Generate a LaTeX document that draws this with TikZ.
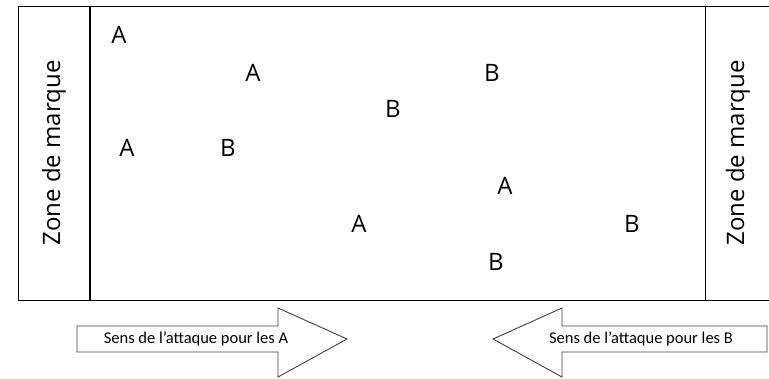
\documentclass[tikz,border=0pt]{standalone}
\usepackage{fontspec}
\setmainfont{Open Sans}
\newfontfamily\lblfont{Carlito}
\begin{document}
\begin{tikzpicture}[x=1pt,y=-1pt,
  player/.style={font=\fontsize{24}{26}\selectfont, inner sep=0pt},
  zonelbl/.style={font=\fontsize{24}{26}\selectfont, rotate=90, inner sep=0pt},
  arrowlbl/.style={font=\lblfont\fontsize{16.5}{18}\selectfont, inner sep=0pt},
  bigarrow/.style={draw=black!75, line width=0.9pt, fill=white, line join=miter}]
\useasboundingbox (0,0) rectangle (769,378);
% field
\draw[line width=1pt] (18,6) -- (769,6);
\draw[line width=1pt] (18,300) -- (769,300);
\draw[line width=1pt] (18,6) -- (18,300);
\draw[line width=2pt] (90,6) -- (90,300);
\draw[line width=1pt] (705,6) -- (705,300);
\node[zonelbl] (zl) at (54,153) {Zone de marque};
\node[zonelbl] (zr) at (738,153) {Zone de marque};
% players
\node[player] (a1) at (119,35) {A};
\node[player] (a2) at (253,73) {A};
\node[player] (b1) at (492,73) {B};
\node[player] (b2) at (393,109) {B};
\node[player] (a3) at (127,148) {A};
\node[player] (b3) at (228,148) {B};
\node[player] (a4) at (505,186) {A};
\node[player] (a5) at (359,224) {A};
\node[player] (b4) at (632,224) {B};
\node[player] (b5) at (496,262) {B};
% arrows
\draw[bigarrow] (77,326) -- (278,326) -- (278,308) -- (347,339) -- (278,377) -- (278,352) -- (77,352) -- cycle;
\node[arrowlbl] (la) at (196,339) {Sens de l’attaque pour les A};
\draw[bigarrow] (767,326) -- (562,326) -- (562,308) -- (493,339) -- (562,377) -- (562,352) -- (767,352) -- cycle;
\node[arrowlbl] (lb) at (641,339) {Sens de l’attaque pour les B};
\end{tikzpicture}
\end{document}
